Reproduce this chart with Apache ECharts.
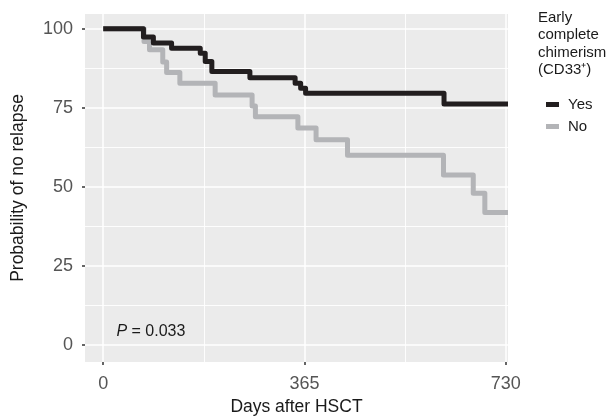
<!DOCTYPE html>
<html><head><meta charset="utf-8">
<script src="https://cdn.jsdelivr.net/npm/echarts@6/dist/echarts.min.js"></script>
<style>html,body{margin:0;padding:0;background:#fff}#c{width:612px;height:418px}</style>
</head><body><div id="c"></div>
<script>
// Kaplan-Meier step data (days after HSCT, probability of no relapse %)
const yesDays = [0, 73, 91, 124, 176, 185, 197, 266, 348, 358, 367, 618, 734];
const yesSurv = [100, 97.4, 95.5, 93.9, 92.3, 89.7, 86.5, 84.5, 82.8, 81.2, 79.6, 76.2, 76.2];
const noDays  = [0, 74, 84, 108, 115, 139, 203, 270, 276, 353, 386, 443, 617, 671, 692, 734];
const noSurv  = [100, 96.0, 93.4, 89.5, 86.2, 82.8, 79.1, 75.6, 72.2, 68.6, 64.9, 60.0, 53.8, 48.0, 41.9, 41.9];
const seriesNames = ['Yes', 'No'];
const xTicks = [0, 365, 730];
const xMinor = [182.5, 547.5];
const yTicks = [0, 25, 50, 75, 100];
const yMinor = [12.5, 37.5, 62.5, 87.5];
const pValue = '0.033';
const pPos = [24, 4.1];

const FONT = "'Liberation Sans', Arial, Helvetica, sans-serif";
const chart = echarts.init(document.getElementById('c'), null, {renderer: 'canvas'});
const pairs = (xs, ys) => xs.map((d, i) => [d, ys[i]]);

const gridLines = [].concat(
  yTicks.map(v => ({yAxis: v, lineStyle: {width: 1.5}})),
  yMinor.map(v => ({yAxis: v, lineStyle: {width: 0.9}})),
  xTicks.map(v => ({xAxis: v, lineStyle: {width: 1.5}})),
  xMinor.map(v => ({xAxis: v, lineStyle: {width: 0.9}}))
);

const tickStyle = {show: true, length: 3, lineStyle: {color: '#333', width: 1.5}};

chart.setOption({
  animation: false,
  textStyle: {fontFamily: FONT},
  title: {
    text: 'Early\ncomplete\nchimerism\n(CD33\u207A)',
    left: 538, top: 9, padding: 0,
    textStyle: {fontFamily: FONT, fontSize: 15, fontWeight: 'normal', color: '#1a1a1a', lineHeight: 17.5}
  },
  legend: {
    data: seriesNames,
    orient: 'vertical',
    left: 546, top: 97, padding: 0,
    icon: 'rect',
    itemWidth: 13, itemHeight: 5,
    itemGap: 7,
    textStyle: {fontFamily: FONT, fontSize: 15, color: '#1a1a1a', padding: [0, 0, 0, 4]}
  },
  grid: {
    left: 85, right: 104, top: 14, bottom: 56,
    outerBoundsMode: 'none', containLabel: false,
    show: true, backgroundColor: '#ebebeb', borderWidth: 0
  },
  xAxis: {
    type: 'value', min: -33, max: 734,
    name: 'Days after HSCT', nameLocation: 'middle', nameGap: 36,
    nameTextStyle: {fontFamily: FONT, fontSize: 17.5, color: '#1a1a1a'},
    axisLine: {show: true, onZero: false, lineStyle: {color: 'rgba(0,0,0,0)'}},
    axisTick: Object.assign({customValues: xTicks}, tickStyle),
    axisLabel: {customValues: xTicks, margin: 13, fontSize: 18, color: '#555', fontFamily: FONT},
    splitLine: {show: false}
  },
  yAxis: {
    type: 'value', min: -5.4, max: 104.7,
    name: 'Probability of no relapse', nameLocation: 'middle', nameGap: 58,
    nameTextStyle: {fontFamily: FONT, fontSize: 17.5, color: '#1a1a1a'},
    axisLine: {show: true, onZero: false, lineStyle: {color: 'rgba(0,0,0,0)'}},
    axisTick: Object.assign({customValues: yTicks}, tickStyle),
    axisLabel: {customValues: yTicks, margin: 12, fontSize: 18, color: '#555', fontFamily: FONT},
    splitLine: {show: false}
  },
  series: [
    {
      type: 'line', name: '_grid', data: [], z: 1, silent: true,
      markLine: {
        silent: true, symbol: 'none', animation: false, z: 1,
        label: {show: false},
        lineStyle: {color: '#ffffff', type: 'solid'},
        data: gridLines
      },
      markPoint: {
        silent: true, symbol: 'circle', symbolSize: 0,
        label: {
          show: true, position: 'right', distance: 0,
          formatter: '{i|P} = ' + pValue,
          fontFamily: FONT, fontSize: 16, color: '#1a1a1a',
          rich: {i: {fontStyle: 'italic', fontFamily: FONT, fontSize: 16, color: '#1a1a1a'}}
        },
        data: [{coord: pPos}]
      }
    },
    {
      type: 'line', name: seriesNames[1], step: 'end', symbol: 'none', z: 3,
      color: '#b3b4b7',
      lineStyle: {color: '#b3b4b7', width: 5, join: 'round'},
      data: pairs(noDays, noSurv)
    },
    {
      type: 'line', name: seriesNames[0], step: 'end', symbol: 'none', z: 4,
      color: '#221e1f',
      lineStyle: {color: '#221e1f', width: 5, join: 'round'},
      data: pairs(yesDays, yesSurv)
    }
  ]
});
</script></body></html>
